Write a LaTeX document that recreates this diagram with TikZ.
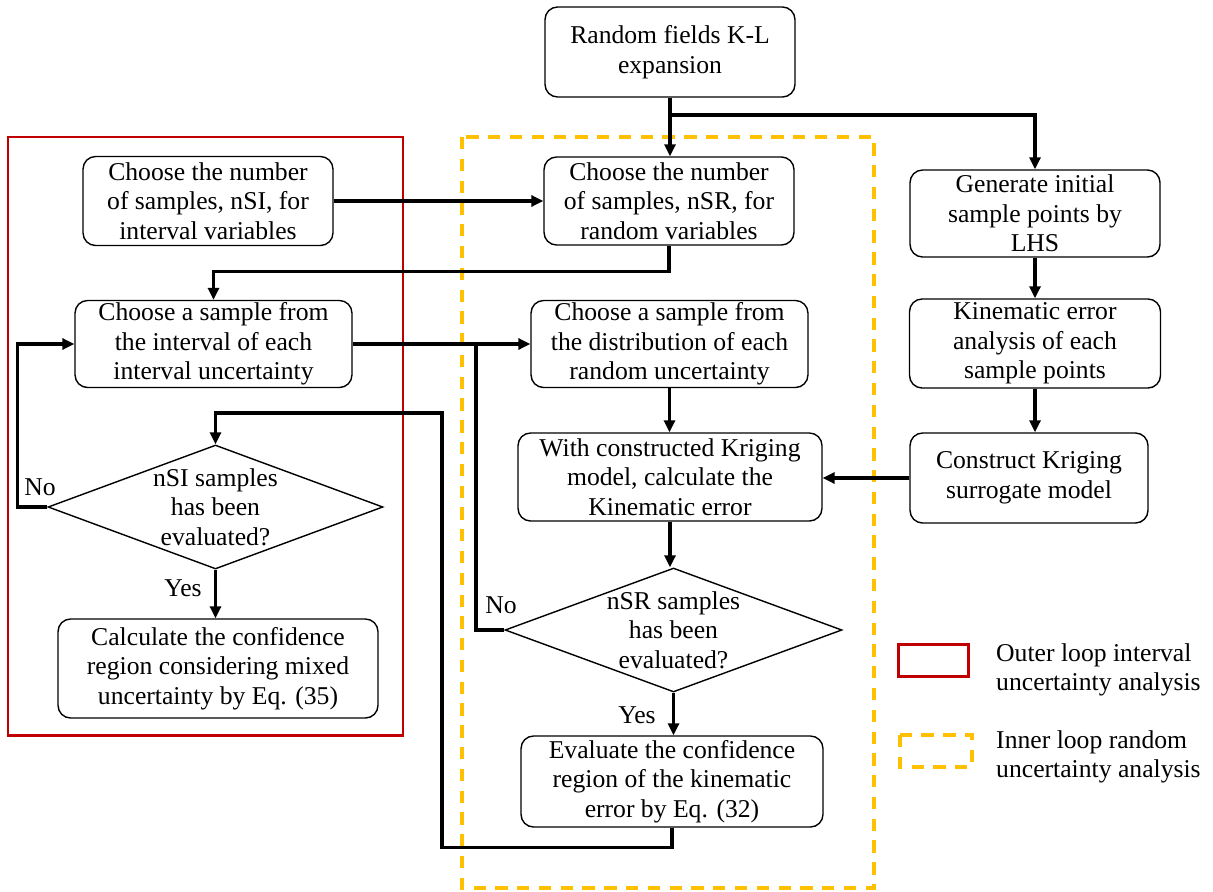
\documentclass[tikz,border=0pt]{standalone}
\usepackage{fontspec}
\setmainfont{Liberation Serif}
\usetikzlibrary{arrows.meta, positioning, shapes.geometric, calc}
\definecolor{outerred}{RGB}{192, 0, 0}
\definecolor{inneryellow}{RGB}{255, 192, 0}

\begin{document}
\begin{tikzpicture}[
        x=0.02cm, y=-0.02cm,
        procbox/.style={rectangle, rounded corners=2.5mm, draw, line width=0.8pt,
                        align=center, inner sep=0pt,
                        font=\fontsize{14.6}{16.8}\selectfont},
        decision/.style={diamond, draw, line width=0.8pt, inner sep=0pt},
        dtext/.style={align=center, font=\fontsize{14.6}{16.8}\selectfont},
        tag/.style={font=\fontsize{14.6}{16.8}\selectfont},
        arrow/.style={-{Triangle[length=2.4mm, width=2.2mm]}, line width=1.8pt},
        link/.style={line width=1.8pt},
        dashframe/.style={inneryellow, line width=2.1pt, dash pattern=on 7pt off 5.4pt},
    ]
        \useasboundingbox (0,0) rectangle (1213,892);

        % loop frames
        \draw[outerred, line width=1.7pt] (8,137) rectangle (403,735);
        \draw[dashframe] (462,137) rectangle (874,888);

        % boxes
        \node[procbox, minimum width=5cm, minimum height=1.8cm] (kl) at (670,52) {Random fields K-L\\expansion};
        \node[procbox, minimum width=5cm, minimum height=1.76cm] (nsr) at (669,201) {Choose the number\\of samples, nSR, for\\random variables};
        \node[procbox, minimum width=5cm, minimum height=1.78cm] (nsi) at (208,201) {Choose the number\\of samples, nSI, for\\interval variables};
        \node[procbox, minimum width=5.54cm, minimum height=1.74cm] (isamp) at (213.5,344) {Choose a sample from\\the interval of each\\interval uncertainty};
        \node[procbox, minimum width=5.54cm, minimum height=1.74cm] (dsamp) at (669.5,344) {Choose a sample from\\the distribution of each\\random uncertainty};
        \node[procbox, minimum width=6.08cm, minimum height=1.76cm] (krig) at (670,477) {With constructed Kriging\\model, calculate the\\Kinematic error};
        \node[procbox, minimum width=5cm, minimum height=1.74cm] (gen) at (1035,213.5) {Generate initial\\sample points by\\LHS};
        \node[procbox, minimum width=5.02cm, minimum height=1.78cm] (kin) at (1035,343.5) {Kinematic error\\analysis of each\\sample points};
        \node[procbox, minimum width=4.76cm, minimum height=1.8cm] (con) at (1029,478) {Construct Kriging\\surrogate model};
        \node[decision, minimum width=6.7cm, minimum height=2.48cm,
              label={[dtext]center:nSI samples\\has been\\evaluated?}] (dnsi) at (215.5,507) {};
        \node[decision, minimum width=6.74cm, minimum height=2.48cm,
              label={[dtext]center:nSR samples\\has been\\evaluated?}] (dnsr) at (673.5,630) {};
        \node[procbox, minimum width=6.4cm, minimum height=1.98cm] (calc) at (218,668.5) {Calculate the confidence\\region considering mixed\\uncertainty by Eq. (35)};
        \node[procbox, minimum width=6.04cm, minimum height=1.82cm] (eval) at (672,781.5) {Evaluate the confidence\\region of the kinematic\\error by Eq. (32)};

        % connectors
        \coordinate (br) at (kl.south |- 0,115);
        \coordinate (nrx) at (476,0);
        \coordinate (lx) at (442,413);
        \draw[arrow] (kl.south) -- (kl.south |- nsr.north);
        \draw[arrow] (br) -| (gen.north);
        \draw[arrow] (nsi.east) -- (nsi.east -| nsr.west);
        \draw[arrow] (nsr.south) -- ++(0,26) -| (isamp.north);
        \draw[arrow] (isamp.east) -- (isamp.east -| dsamp.west);
        \draw[link] (dnsr.west) -| (isamp.east -| nrx);
        \draw[arrow] (dnsi.west) -- ++(-30,0) |- (isamp.west);
        \draw[arrow] (dnsi.south) -- (dnsi.south |- calc.north);
        \draw[arrow] (dsamp.south) -- (dsamp.south |- krig.north);
        \draw[arrow] (con.west) -- (con.west -| krig.east);
        \draw[arrow] (krig.south) -- (krig.south |- dnsr.north);
        \draw[arrow] (dnsr.south) -- (dnsr.south |- eval.north);
        \draw[arrow] (eval.south) -- ++(0,20) -| (lx) -| (dnsi.north);
        \draw[arrow] (gen.south) -- (kin.north);
        \draw[arrow] (kin.south) -- (kin.south |- con.north);

        % branch labels
        \node[tag] (no1) at (40,487) {No};
        \node[tag] (yes1) at (183,588) {Yes};
        \node[tag] (no2) at (501,605) {No};
        \node[tag] (yes2) at (637,715) {Yes};

        % legend
        \draw[outerred, line width=1.7pt] (898,644) rectangle (968,676);
        \draw[dashframe] (900,735) rectangle (972,767);
        \node[tag, anchor=west, align=left] (lgout) at (990,670) {Outer loop interval\\uncertainty analysis};
        \node[tag, anchor=west, align=left] (lgin) at (990,757) {Inner loop random\\uncertainty analysis};
    \end{tikzpicture}
\end{document}
